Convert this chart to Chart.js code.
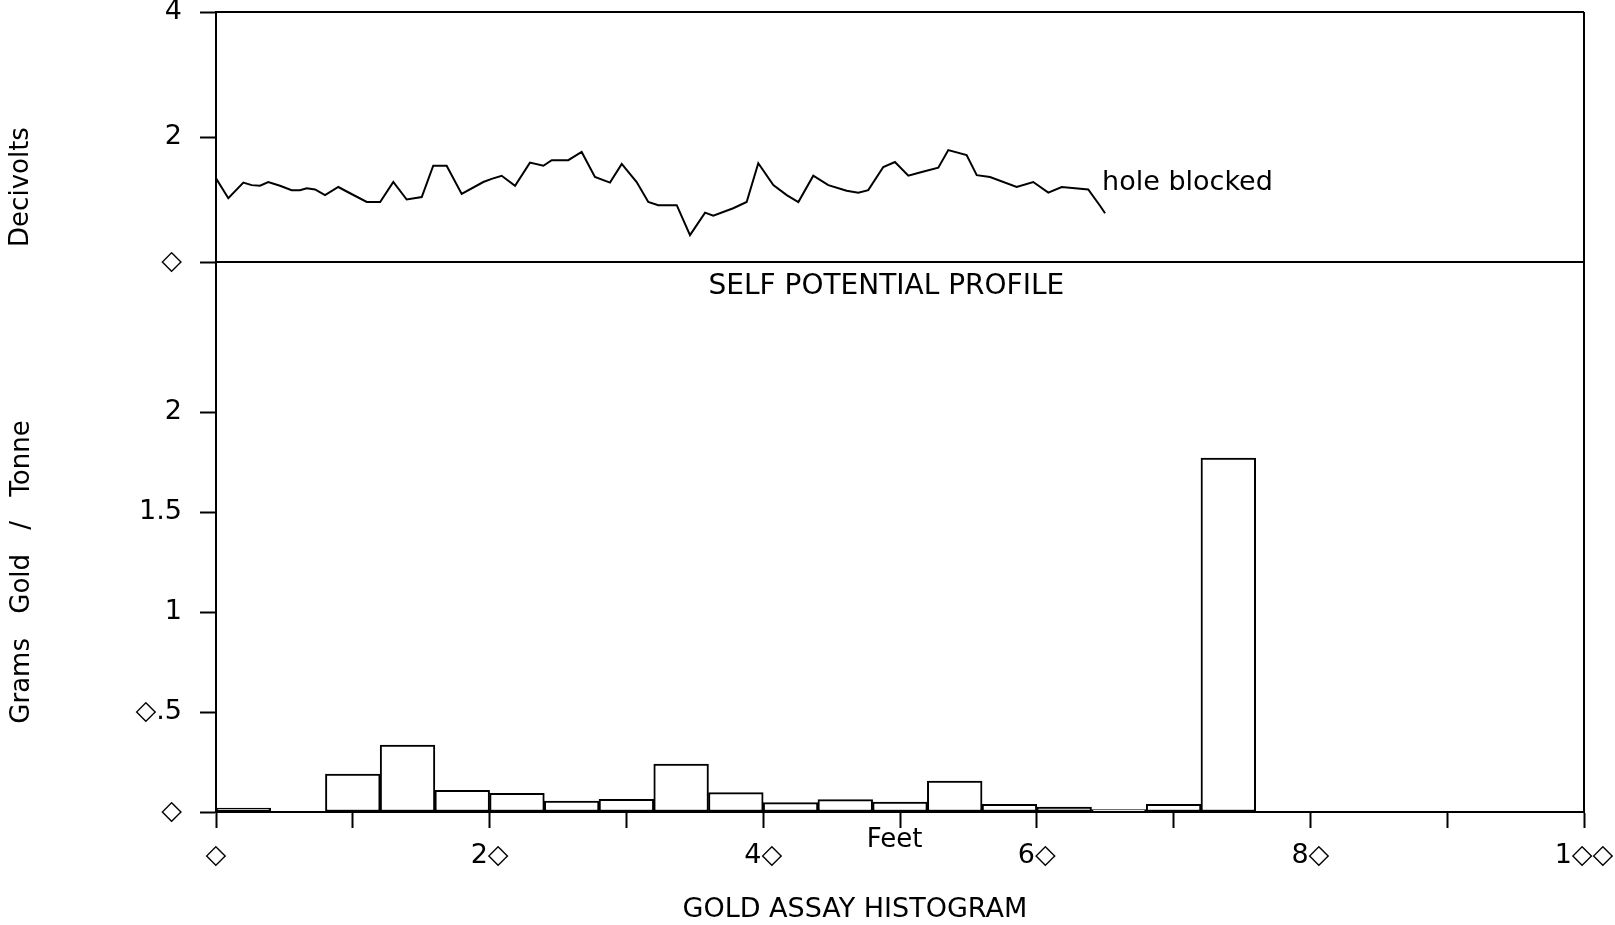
<!DOCTYPE html>
<html><head><meta charset="utf-8">
<script src="https://cdn.jsdelivr.net/npm/chart.js@4/dist/chart.umd.min.js"></script>
<style>html,body{margin:0;padding:0;background:#fff;}canvas{display:block;}</style>
</head><body>
<canvas id="c" width="1615" height="925"></canvas>
<script>
// Self potential profile (depth in feet, decivolts)
const spFeet = [0, 0.9, 2.0, 2.61, 3.22, 3.82, 4.68, 5.53, 6.14, 6.63, 7.24, 7.97, 8.94, 9.8, 11.02, 12.0, 12.96, 13.94, 15.04, 15.88, 16.86, 17.96, 19.54, 20.15, 20.88, 21.86, 22.95, 23.93, 24.54, 25.75, 26.73, 27.7, 28.8, 29.66, 30.75, 31.6, 32.33, 33.68, 34.65, 35.75, 36.35, 37.81, 38.79, 39.64, 40.74, 41.72, 42.57, 43.66, 44.76, 46.1, 46.95, 47.68, 48.78, 49.63, 50.61, 51.59, 52.8, 53.53, 54.87, 55.61, 56.58, 58.53, 59.74, 60.84, 61.82, 63.76, 64.62, 64.99];
const spDecivolts = [1.34, 1.02, 1.27, 1.23, 1.22, 1.28, 1.22, 1.15, 1.15, 1.18, 1.16, 1.07, 1.2, 1.1, 0.96, 0.96, 1.28, 1.0, 1.04, 1.54, 1.54, 1.09, 1.28, 1.33, 1.38, 1.22, 1.59, 1.54, 1.63, 1.63, 1.76, 1.36, 1.27, 1.57, 1.28, 0.96, 0.91, 0.91, 0.43, 0.79, 0.74, 0.86, 0.96, 1.58, 1.23, 1.07, 0.96, 1.38, 1.23, 1.14, 1.11, 1.15, 1.52, 1.6, 1.38, 1.44, 1.51, 1.79, 1.71, 1.39, 1.36, 1.2, 1.28, 1.11, 1.2, 1.16, 0.9, 0.78];

// Gold assay histogram (4-foot bins)
const binWidthFeet = 4;
const binStartFeet = [0, 4, 8, 12, 16, 20, 24, 28, 32, 36, 40, 44, 48, 52, 56, 60, 64, 68, 72];
const goldGramsPerTonne = [0.02, 0, 0.19, 0.335, 0.108, 0.093, 0.055, 0.063, 0.24, 0.097, 0.047, 0.062, 0.05, 0.155, 0.038, 0.025, 0.012, 0.038, 1.77];

// Tick values and labels
const feetTicks = [0, 10, 20, 30, 40, 50, 60, 70, 80, 90, 100];
const feetTickLabels = ['\u25C7', '', '2\u25C7', '', '4\u25C7', '', '6\u25C7', '', '8\u25C7', '', '1\u25C7\u25C7'];
const spTicks = [0, 2, 4];
const spTickLabels = ['\u25C7', '2', '4'];
const auTicks = [0, 0.5, 1, 1.5, 2];
const auTickLabels = ['\u25C7', '\u25C7.5', '1', '1.5', '2'];

const FAMILY = "'DejaVu Sans', sans-serif";
const tickFont = { family: FAMILY, size: 27 };

function yAxis(extra, ticks, labels) {
  return Object.assign({
    type: 'linear', position: 'left', stack: 'panels',
    grid: { display: true, drawOnChartArea: false, drawTicks: true, tickLength: 16, tickWidth: 2, tickColor: '#000' },
    border: { display: true, color: '#000', width: 2 },
    ticks: { color: '#000', font: tickFont, padding: 18, autoSkip: false, callback: (v, i) => labels[i] },
    afterBuildTicks: s => { s.ticks = ticks.map(v => ({ value: v })); },
    afterFit: s => { s.width = 216; s.paddingTop = 0; s.paddingBottom = 0; }
  }, extra);
}

const framePlugin = {
  id: 'frame',
  afterDatasetsDraw(chart) {
    const { ctx, scales } = chart;
    const x = scales.x, sp = scales.ySP, au = scales.yAu;
    const x0 = x.getPixelForValue(0), x1 = x.getPixelForValue(100);
    const top = sp.getPixelForValue(4), mid = sp.getPixelForValue(0), bot = au.getPixelForValue(0);
    ctx.save();
    ctx.strokeStyle = '#000';
    ctx.lineWidth = 2;
    ctx.beginPath();
    ctx.moveTo(x0, top); ctx.lineTo(x1, top);
    ctx.moveTo(x0, mid); ctx.lineTo(x1, mid);
    ctx.moveTo(x1, top); ctx.lineTo(x1, bot);
    ctx.stroke();

    ctx.fillStyle = '#000';
    ctx.textBaseline = 'middle';
    // panel captions
    ctx.font = '28px ' + FAMILY;
    ctx.textAlign = 'center';
    ctx.fillText('SELF POTENTIAL PROFILE', x.getPixelForValue(49), mid + 25);
    ctx.font = '27px ' + FAMILY;
    ctx.fillText('GOLD ASSAY HISTOGRAM', x.getPixelForValue(46.7), bot + 98);
    ctx.font = '26px ' + FAMILY;
    ctx.fillText('Feet', x.getPixelForValue(49.6), bot + 28);
    ctx.textAlign = 'left';
    ctx.font = '27px ' + FAMILY;
    ctx.fillText('hole blocked', x.getPixelForValue(64.77), sp.getPixelForValue(1.26));

    // rotated axis titles
    ctx.textAlign = 'center';
    ctx.font = '26px ' + FAMILY;
    ctx.save();
    ctx.translate(21, sp.getPixelForValue(1.2));
    ctx.rotate(-Math.PI / 2);
    ctx.fillText('Decivolts', 0, 0);
    ctx.restore();
    ctx.save();
    ctx.translate(22, au.getPixelForValue(1.2));
    ctx.rotate(-Math.PI / 2);
    if ('wordSpacing' in ctx) ctx.wordSpacing = '16px';
    ctx.fillText('Grams Gold / Tonne', 0, 0);
    ctx.restore();
    ctx.restore();
  }
};

new Chart(document.getElementById('c'), {
  type: 'bar',
  data: {
    datasets: [
      {
        type: 'line',
        data: spFeet.map((f, i) => ({ x: f, y: spDecivolts[i] })),
        xAxisID: 'x', yAxisID: 'ySP',
        borderColor: '#000', borderWidth: 2, pointRadius: 0, tension: 0, fill: false, order: 0
      },
      {
        type: 'bar',
        data: binStartFeet.map((f, i) => ({ x: f + binWidthFeet / 2, y: goldGramsPerTonne[i] })),
        xAxisID: 'x', yAxisID: 'yAu',
        backgroundColor: '#fff', borderColor: '#000', borderWidth: 2, borderSkipped: false,
        barPercentage: 1, categoryPercentage: 1, order: 1
      }
    ]
  },
  options: {
    responsive: false, animation: false, devicePixelRatio: 1,
    layout: { padding: { left: 0, right: 31, top: 12, bottom: 0 } },
    plugins: { legend: { display: false }, tooltip: { enabled: false } },
    scales: {
      x: {
        type: 'linear', position: 'bottom', min: 0, max: 100, offset: false,
        grid: { display: true, offset: false, drawOnChartArea: false, drawTicks: true, tickLength: 16, tickWidth: 2, tickColor: '#000' },
        border: { display: true, color: '#000', width: 2 },
        ticks: { color: '#000', font: tickFont, padding: 12, autoSkip: false, maxRotation: 0, minRotation: 0, callback: (v, i) => feetTickLabels[i] },
        afterBuildTicks: s => { s.ticks = feetTicks.map(v => ({ value: v })); },
        afterFit: s => { s.height = 113; s.paddingLeft = 0; s.paddingRight = 0; }
      },
      yAu: yAxis({ stackWeight: 11, min: 0, max: 2.75 }, auTicks, auTickLabels),
      ySP: yAxis({ stackWeight: 5, min: 0, max: 4 }, spTicks, spTickLabels)
    }
  },
  plugins: [framePlugin]
});
</script>
</body></html>
